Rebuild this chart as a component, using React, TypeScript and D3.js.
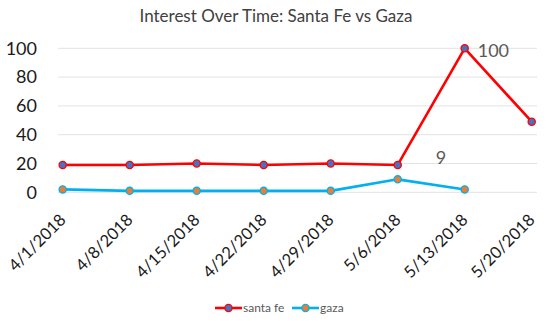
import React from "react";
import * as d3 from "d3";

const categories = ["4/1/2018", "4/8/2018", "4/15/2018", "4/22/2018", "4/29/2018", "5/6/2018", "5/13/2018", "5/20/2018"];
const santaFe: (number | null)[] = [19, 19, 20, 19, 20, 19, 100, 49];
const gaza: (number | null)[] = [2, 1, 1, 1, 1, 9, 2, null];
const yTicks = [0, 20, 40, 60, 80, 100];
const seriesNames = ["santa fe", "gaza"];

const W = 550, H = 321;
const FONT = "Lato, 'Open Sans', sans-serif";

export default function App() {
  const x = d3.scalePoint<string>().domain(categories).range([62.7, 531.7]);
  const y = d3.scaleLinear().domain([0, 100]).range([192.3, 48.3]);
  const line = d3
    .line<number | null>()
    .defined((d) => d != null)
    .x((_, i) => x(categories[i])!)
    .y((d) => y(d as number));

  const series = [
    { name: seriesNames[0], data: santaFe, stroke: "#FF0000", fill: "#4472C4" },
    { name: seriesNames[1], data: gaza, stroke: "#00B0F0", fill: "#ED7D31" },
  ];

  return (
    <svg width={W} height={H} style={{ position: "absolute", left: 0, top: 0, background: "#fff" }}>
      <rect width={W} height={H} fill="#fff" />
      <text x={276} y={22} textAnchor="middle" fontFamily={FONT} fontSize={17} fill="#404040">
        Interest Over Time: Santa Fe vs Gaza
      </text>
      {yTicks.map((t) => (
        <g key={t}>
          <line x1={58} x2={537} y1={y(t)} y2={y(t)} stroke="#E3E3E3" strokeWidth={1} />
          <text x={37} y={y(t)} dy="0.35em" textAnchor="end" fontFamily={FONT} fontSize={18} fill="#1a1a1a">
            {t}
          </text>
        </g>
      ))}
      {categories.map((c) => (
        <text
          key={c}
          transform={`translate(${x(c)! + 4},${221}) rotate(-45)`}
          textAnchor="end"
          fontFamily={FONT}
          fontSize={16.5}
          fill="#1a1a1a"
        >
          {c}
        </text>
      ))}
      {series.map((s) => (
        <g key={s.name}>
          <path d={line(s.data) || ""} fill="none" stroke={s.stroke} strokeWidth={2.6} strokeLinejoin="round" />
          {s.data.map((d, i) =>
            d == null ? null : (
              <circle key={i} cx={x(categories[i])} cy={y(d)} r={3.6} fill={s.fill} stroke={s.stroke} strokeWidth={1.3} />
            )
          )}
        </g>
      ))}
      <text x={x(categories[6])! + 13} y={y(100) + 2} dy="0.35em" fontFamily={FONT} fontSize={18} fill="#595959">
        100
      </text>
      <text x={441} y={158} dy="0.35em" textAnchor="middle" fontFamily={FONT} fontSize={18} fill="#595959">
        9
      </text>
      {series.map((s, i) => {
        const lx = i === 0 ? 215 : 292;
        return (
          <g key={s.name}>
            <line x1={lx} x2={lx + 27} y1={308} y2={308} stroke={s.stroke} strokeWidth={2.6} />
            <circle cx={lx + 13.5} cy={308} r={3.6} fill={s.fill} stroke={s.stroke} strokeWidth={1.3} />
            <text x={lx + 28} y={308} dy="0.35em" fontFamily={FONT} fontSize={12} fill="#595959">
              {s.name}
            </text>
          </g>
        );
      })}
    </svg>
  );
}
